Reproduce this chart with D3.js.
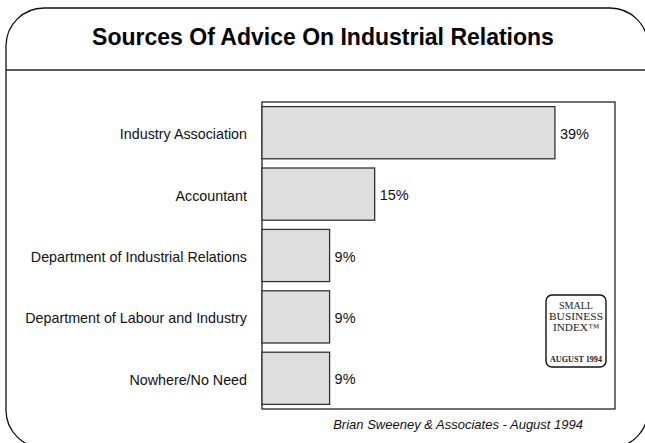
<!DOCTYPE html>
<html>
<head>
<meta charset="utf-8">
<script src="https://cdn.jsdelivr.net/npm/d3@7"></script>
<style>
  html, body { margin: 0; padding: 0; background: #fff; }
  svg { display: block; font-family: "Liberation Sans", Arial, sans-serif; }
</style>
</head>
<body>
<svg id="chart" width="645" height="443"></svg>
<script>
// Survey results: where small businesses go for industrial relations advice
const categories = [
  "Industry Association",
  "Accountant",
  "Department of Industrial Relations",
  "Department of Labour and Industry",
  "Nowhere/No Need"
];
const values = [39, 15, 9, 9, 9];
const valueLabels = ["39%", "15%", "9%", "9%", "9%"];
const title = "Sources Of Advice On Industrial Relations";
const footer = "Brian Sweeney & Associates - August 1994";
const logoLines = ["SMALL", "BUSINESS", "INDEX\u2122"];
const logoDate = "AUGUST 1994";

const svg = d3.select("#chart");

// Rounded outer frame and title divider
svg.append("rect")
  .attr("x", 6).attr("y", 8)
  .attr("width", 642).attr("height", 440)
  .attr("rx", 38).attr("ry", 38)
  .attr("fill", "#fff")
  .attr("stroke", "#111")
  .attr("stroke-width", 1.3);

svg.append("line")
  .attr("x1", 6).attr("x2", 648)
  .attr("y1", 70).attr("y2", 70)
  .attr("stroke", "#222")
  .attr("stroke-width", 1.3);

svg.append("text")
  .attr("x", 323).attr("y", 45)
  .attr("text-anchor", "middle")
  .attr("font-size", 23)
  .attr("font-weight", "bold")
  .attr("fill", "#000")
  .text(title);

// Plot area
const plot = { left: 262, top: 102, right: 615, bottom: 409 };

const x = d3.scaleLinear()
  .domain([0, 47])
  .range([plot.left, plot.right]);

const y = d3.scaleBand()
  .domain(categories)
  .range([plot.top, plot.bottom])
  .paddingInner(0.15)
  .paddingOuter(0.075);

svg.append("rect")
  .attr("x", plot.left).attr("y", plot.top)
  .attr("width", plot.right - plot.left)
  .attr("height", plot.bottom - plot.top)
  .attr("fill", "#fff")
  .attr("stroke", "#111")
  .attr("stroke-width", 1.2);

const rows = categories.map((c, i) => ({ cat: c, v: values[i], label: valueLabels[i] }));

svg.append("g").selectAll("rect")
  .data(rows)
  .join("rect")
  .attr("x", x(0))
  .attr("y", d => y(d.cat))
  .attr("width", d => x(d.v) - x(0))
  .attr("height", y.bandwidth())
  .attr("fill", "#dedede")
  .attr("stroke", "#333")
  .attr("stroke-width", 1.3);

// Value labels to the right of each bar
svg.append("g").selectAll("text")
  .data(rows)
  .join("text")
  .attr("x", d => x(d.v) + 5)
  .attr("y", d => y(d.cat) + y.bandwidth() / 2 + 6)
  .attr("font-size", 14.5)
  .attr("fill", "#111")
  .text(d => d.label);

// Category axis (labels only)
const yAxis = svg.append("g")
  .attr("transform", `translate(${plot.left - 15},0)`)
  .call(d3.axisLeft(y).tickSize(0).tickPadding(0));
yAxis.select(".domain").remove();
yAxis.selectAll("text")
  .attr("font-size", 14.3)
  .attr("font-family", "Liberation Sans, Arial, sans-serif")
  .attr("fill", "#111")
  .attr("dy", "0.45em");

// Small Business Index badge
const logo = svg.append("g").attr("transform", "translate(546,295)");
logo.append("rect")
  .attr("width", 60).attr("height", 72)
  .attr("rx", 6).attr("ry", 6)
  .attr("fill", "#fff")
  .attr("stroke", "#111")
  .attr("stroke-width", 1.4);
const logoWidths = [34, 54, 46];
logo.selectAll("text.line")
  .data(logoLines)
  .join("text")
  .attr("class", "line")
  .attr("x", 30)
  .attr("y", (d, i) => 14 + i * 11)
  .attr("text-anchor", "middle")
  .attr("font-family", "Liberation Serif, serif")
  .attr("font-size", 10)
  .attr("fill", "#222")
  .attr("textLength", (d, i) => logoWidths[i])
  .attr("lengthAdjust", "spacingAndGlyphs")
  .text(d => d);
logo.append("text")
  .attr("x", 30).attr("y", 67)
  .attr("text-anchor", "middle")
  .attr("font-family", "Liberation Serif, serif")
  .attr("font-size", 9)
  .attr("font-weight", "bold")
  .attr("fill", "#222")
  .attr("textLength", 52)
  .attr("lengthAdjust", "spacingAndGlyphs")
  .text(logoDate);

// Source footer
svg.append("text")
  .attr("x", 583).attr("y", 429)
  .attr("text-anchor", "end")
  .attr("font-size", 13)
  .attr("font-style", "italic")
  .attr("fill", "#111")
  .text(footer);
</script>
</body>
</html>
